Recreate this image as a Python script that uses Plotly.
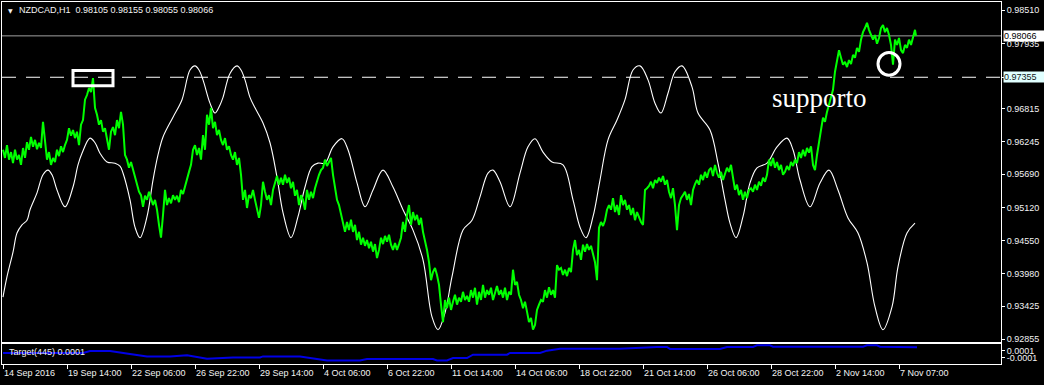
import plotly.graph_objects as go

# ---------------- data ----------------
x_tick_bars = [0, 64, 128, 192, 256, 320, 384, 448, 512, 576, 640, 704, 768, 832, 896]
x_tick_labels = ["14 Sep 2016", "19 Sep 14:00", "22 Sep 06:00", "26 Sep 22:00", "29 Sep 14:00",
                 "4 Oct 06:00", "6 Oct 22:00", "11 Oct 14:00", "14 Oct 06:00", "18 Oct 22:00",
                 "21 Oct 14:00", "26 Oct 06:00", "28 Oct 22:00", "2 Nov 14:00", "7 Nov 07:00"]
price_ticks = [0.98510, 0.97935, 0.97355, 0.96815, 0.96245, 0.95690, 0.95120,
               0.94550, 0.93980, 0.93425, 0.92855]

# NZDCAD H1 close, sampled every 2 bars, plus last bar
close_prices = [
    0.9611, 0.9597, 0.9619, 0.9594, 0.9607, 0.9588, 0.9611, 0.9594, 0.9602, 0.9585,  # 0
    0.9614, 0.9597, 0.9624, 0.9611, 0.9633, 0.9616, 0.9628, 0.9612, 0.9623, 0.9614,  # 20
    0.9659, 0.9628, 0.9594, 0.9607, 0.9585, 0.9597, 0.9590, 0.9611, 0.9600, 0.9617,  # 40
    0.9607, 0.9619, 0.9628, 0.9648, 0.9635, 0.9645, 0.9631, 0.9642, 0.9619, 0.9654,  # 60
    0.9662, 0.9697, 0.9705, 0.9717, 0.9710, 0.9734, 0.9683, 0.9671, 0.9654, 0.9662,  # 80
    0.9642, 0.9648, 0.9631, 0.9611, 0.9642, 0.9650, 0.9636, 0.9662, 0.9648, 0.9676,  # 100
    0.9654, 0.9602, 0.9594, 0.9580, 0.9590, 0.9576, 0.9563, 0.9551, 0.9539, 0.9533,  # 120
    0.9513, 0.9532, 0.9525, 0.9539, 0.9528, 0.9516, 0.9525, 0.9508, 0.9482, 0.9460,  # 140
    0.9499, 0.9542, 0.9516, 0.9528, 0.9519, 0.9533, 0.9525, 0.9532, 0.9521, 0.9542,  # 160
    0.9535, 0.9549, 0.9559, 0.9573, 0.9585, 0.9611, 0.9619, 0.9602, 0.9614, 0.9594,  # 180
    0.9636, 0.9611, 0.9671, 0.9654, 0.9683, 0.9648, 0.9659, 0.9636, 0.9645, 0.9628,  # 200
    0.9619, 0.9631, 0.9611, 0.9617, 0.9602, 0.9594, 0.9607, 0.9585, 0.9597, 0.9568,  # 220
    0.9525, 0.9542, 0.9511, 0.9533, 0.9528, 0.9542, 0.9525, 0.9508, 0.9494, 0.9516,  # 240
    0.9556, 0.9539, 0.9525, 0.9533, 0.9516, 0.9542, 0.9556, 0.9566, 0.9551, 0.9563,  # 260
    0.9551, 0.9568, 0.9554, 0.9563, 0.9545, 0.9556, 0.9532, 0.9542, 0.9516, 0.9533,  # 280
    0.9525, 0.9508, 0.9542, 0.9525, 0.9539, 0.9528, 0.9545, 0.9559, 0.9568, 0.9576,  # 300
    0.9580, 0.9594, 0.9583, 0.9590, 0.9597, 0.9568, 0.9542, 0.9525, 0.9516, 0.9499,  # 320
    0.9482, 0.9470, 0.9487, 0.9473, 0.9491, 0.9470, 0.9482, 0.9456, 0.9470, 0.9448,  # 340
    0.9460, 0.9446, 0.9456, 0.9442, 0.9453, 0.9436, 0.9449, 0.9425, 0.9439, 0.9460,  # 360
    0.9449, 0.9463, 0.9453, 0.9465, 0.9448, 0.9439, 0.9451, 0.9439, 0.9449, 0.9460,  # 380
    0.9487, 0.9470, 0.9499, 0.9516, 0.9482, 0.9504, 0.9490, 0.9499, 0.9482, 0.9494,  # 400
    0.9470, 0.9456, 0.9439, 0.9418, 0.9387, 0.9401, 0.9408, 0.9396, 0.9379, 0.9345,  # 420
    0.9315, 0.9353, 0.9339, 0.9357, 0.9336, 0.9350, 0.9362, 0.9345, 0.9357, 0.9350,  # 440
    0.9367, 0.9353, 0.9360, 0.9350, 0.9370, 0.9357, 0.9374, 0.9345, 0.9367, 0.9353,  # 460
    0.9379, 0.9357, 0.9370, 0.9362, 0.9374, 0.9353, 0.9367, 0.9377, 0.9362, 0.9370,  # 480
    0.9357, 0.9374, 0.9353, 0.9367, 0.9362, 0.9405, 0.9379, 0.9384, 0.9362, 0.9353,  # 500
    0.9339, 0.9350, 0.9333, 0.9315, 0.9322, 0.9302, 0.9310, 0.9336, 0.9345, 0.9353,  # 520
    0.9350, 0.9370, 0.9357, 0.9375, 0.9362, 0.9370, 0.9357, 0.9413, 0.9405, 0.9408,  # 540
    0.9396, 0.9405, 0.9394, 0.9408, 0.9401, 0.9439, 0.9456, 0.9430, 0.9439, 0.9422,  # 560
    0.9448, 0.9436, 0.9449, 0.9439, 0.9446, 0.9430, 0.9418, 0.9387, 0.9477, 0.9487,  # 580
    0.9480, 0.9490, 0.9508, 0.9516, 0.9508, 0.9528, 0.9504, 0.9516, 0.9499, 0.9533,  # 600
    0.9516, 0.9525, 0.9508, 0.9516, 0.9499, 0.9511, 0.9490, 0.9504, 0.9494, 0.9487,  # 620
    0.9482, 0.9542, 0.9545, 0.9549, 0.9556, 0.9545, 0.9559, 0.9554, 0.9563, 0.9556,  # 640
    0.9566, 0.9551, 0.9559, 0.9539, 0.9528, 0.9545, 0.9516, 0.9473, 0.9516, 0.9528,  # 660
    0.9533, 0.9539, 0.9525, 0.9535, 0.9516, 0.9542, 0.9552, 0.9559, 0.9551, 0.9568,  # 680
    0.9559, 0.9573, 0.9563, 0.9576, 0.9580, 0.9566, 0.9585, 0.9571, 0.9563, 0.9573,  # 700
    0.9559, 0.9568, 0.9580, 0.9573, 0.9585, 0.9563, 0.9542, 0.9551, 0.9533, 0.9542,  # 720
    0.9525, 0.9539, 0.9528, 0.9542, 0.9545, 0.9539, 0.9551, 0.9542, 0.9556, 0.9549,  # 740
    0.9563, 0.9556, 0.9568, 0.9594, 0.9583, 0.9597, 0.9580, 0.9590, 0.9576, 0.9585,  # 760
    0.9568, 0.9573, 0.9583, 0.9576, 0.9590, 0.9583, 0.9594, 0.9588, 0.9607, 0.9597,  # 780
    0.9611, 0.9600, 0.9614, 0.9606, 0.9617, 0.9585, 0.9576, 0.9602, 0.9628, 0.9645,  # 800
    0.9666, 0.9659, 0.9676, 0.9688, 0.9700, 0.9714, 0.9745, 0.9765, 0.9782, 0.9769,  # 820
    0.9757, 0.9762, 0.9753, 0.9765, 0.9758, 0.9774, 0.9769, 0.9786, 0.9779, 0.9800,  # 840
    0.9813, 0.9820, 0.9829, 0.9817, 0.9808, 0.9800, 0.9808, 0.9793, 0.9803, 0.9820,  # 860
    0.9825, 0.9813, 0.9820, 0.9808, 0.9791, 0.9757, 0.9800, 0.9791, 0.9803, 0.9782,  # 880
    0.9777, 0.9791, 0.9786, 0.9800, 0.9791, 0.9803, 0.9817,                          # 900
    0.98066,                                                                         # 913
]
last_bar = 913
close_bars = [2 * i for i in range(len(close_prices) - 1)] + [last_bar]
last_close = 0.98066

# white projection curve
curve_bars = [0, 4, 10, 14, 19, 24, 27, 34, 40, 45, 49, 54, 62, 70, 75, 79, 87, 92, 97, 104,
              112, 117, 120, 127, 132, 137, 144, 150, 155, 160, 170, 179, 187, 192, 196, 200,
              207, 212, 217, 220, 227, 234, 238, 242, 247, 252, 260, 267, 274, 280, 288, 295,
              302, 309, 315, 322, 330, 339, 345, 354, 362, 370, 380, 390, 400, 410, 420, 429,
              435, 442, 449, 460, 469, 477, 485, 490, 497, 507, 517, 525, 532, 540, 549, 560,
              570, 577, 583, 590, 597, 605, 614, 622, 630, 637, 645, 652, 658, 665, 672, 679,
              689, 695, 707, 715, 722, 727, 733, 740, 747, 754, 764, 774, 784, 790, 797, 807,
              817, 826, 835, 845, 855, 864, 872, 880, 889, 895, 904, 912]
curve_prices = [0.9358, 0.9393, 0.9435, 0.9468, 0.9482, 0.9490, 0.9508, 0.9537, 0.9568, 0.9576,
                0.9568, 0.9542, 0.9513, 0.9547, 0.9585, 0.9605, 0.9631, 0.9623, 0.9605, 0.9590,
                0.9588, 0.9583, 0.9571, 0.9525, 0.9478, 0.9460, 0.9496, 0.9559, 0.9602, 0.9633,
                0.9667, 0.9697, 0.9748, 0.9755, 0.9748, 0.9731, 0.9691, 0.9674, 0.9688, 0.9701,
                0.9742, 0.9755, 0.9748, 0.9731, 0.9701, 0.9683, 0.9657, 0.9623, 0.9564, 0.9503,
                0.9460, 0.9496, 0.9547, 0.9582, 0.9588, 0.9588, 0.9616, 0.9630, 0.9611, 0.9554,
                0.9513, 0.9542, 0.9576, 0.9547, 0.9508, 0.9473, 0.9422, 0.9324, 0.9302, 0.9331,
                0.9393, 0.9473, 0.9490, 0.9530, 0.9571, 0.9576, 0.9556, 0.9513, 0.9571, 0.9616,
                0.9630, 0.9607, 0.9590, 0.9585, 0.9525, 0.9478, 0.9460, 0.9496, 0.9559, 0.9628,
                0.9662, 0.9697, 0.9748, 0.9755, 0.9731, 0.9691, 0.9674, 0.9708, 0.9745, 0.9755,
                0.9719, 0.9674, 0.9645, 0.9588, 0.9525, 0.9485, 0.9460, 0.9496, 0.9554, 0.9580,
                0.9588, 0.9616, 0.9631, 0.9611, 0.9559, 0.9513, 0.9554, 0.9576, 0.9542, 0.9494,
                0.9468, 0.9417, 0.9341, 0.9302, 0.9341, 0.9410, 0.9468, 0.9485]

# Target(445) indicator (lower window)
target_bars = [0, 80, 87, 107, 127, 144, 167, 184, 204, 230, 257, 260, 297, 310, 324, 357, 364,
               430, 434, 444, 450, 464, 470, 504, 507, 537, 544, 557, 617, 654, 664, 667, 717,
               724, 750, 754, 767, 770, 860, 864, 874, 877, 894, 897, 914]
target_values = [0.000034, 0.000034, 0.000091, 0.000091, 0.000006, -0.000063, -0.000063,
                 -0.000034, -0.000129, -0.000092, -0.000092, -0.000063, -0.000063, -0.000109,
                 -0.000177, -0.000177, -0.000137, -0.000137, -0.000177, -0.000177, -0.000109,
                 -0.000109, -0.000014, -0.000014, 0.000034, 0.000034, 0.000100, 0.000157,
                 0.000157, 0.000206, 0.000206, 0.000149, 0.000149, 0.000206, 0.000206, 0.000252,
                 0.000252, 0.000214, 0.000214, 0.000252, 0.000252, 0.000214, 0.000214, 0.000194,
                 0.000194]
target_ticks = [0.0001, -0.0001]

support_level = 0.97355
box_bars = [70, 110]
box_prices = [0.9721, 0.9747]
circle_bars = [875, 897]
circle_prices = [0.9739, 0.9778]
label_bar = 816
label_price = 0.9700

header_text = "NZDCAD,H1\u00a0\u00a00.98105 0.98155 0.98055 0.98066"
target_text = "Target(445) 0.0001"

# ---------------- figure ----------------
W, H = 1044, 385
ML, MR, MT, MB = 2, 43, 2, 21
PH = H - MT - MB          # 362
PW = W - ML - MR          # 999
main_bottom = (H - MB - 342) / PH
sub_top = (H - MB - 344) / PH

TXT = "#f2f2f2"
FONT = "Liberation Sans"

fig = go.Figure()
fig.add_trace(go.Scatter(x=curve_bars, y=curve_prices, mode="lines",
                         line=dict(color="white", width=1.1, shape="spline", smoothing=1.0),
                         xaxis="x", yaxis="y", hoverinfo="skip"))
fig.add_trace(go.Scatter(x=close_bars, y=close_prices, mode="lines",
                         line=dict(color="#00ff00", width=2),
                         xaxis="x", yaxis="y", hoverinfo="skip"))
fig.add_trace(go.Scatter(x=target_bars, y=target_values, mode="lines",
                         line=dict(color="#0000e6", width=2),
                         xaxis="x2", yaxis="y2", hoverinfo="skip"))

# tick labels hidden under the price boxes are left blank
price_tick_text = ["" if abs(v - support_level) < 1e-9 else f"{v:.5f}" for v in price_ticks]

xr = [-1, PW - 1]
axis_common = dict(showgrid=False, zeroline=False, showline=True, mirror=True,
                   linecolor="white", linewidth=1)
fig.update_layout(
    width=W, height=H,
    margin=dict(l=ML, r=MR, t=MT, b=MB, pad=0),
    paper_bgcolor="black", plot_bgcolor="black",
    showlegend=False,
    font=dict(family=FONT, size=9, color=TXT),
    xaxis=dict(range=xr, domain=[0, 1], anchor="y", showticklabels=False, ticks="", **axis_common),
    yaxis=dict(range=[0.928085, 0.986474], domain=[main_bottom, 1], side="right",
               tickvals=price_ticks, ticktext=price_tick_text,
               ticks="outside", ticklen=3, tickcolor="white",
               tickfont=dict(family=FONT, size=9, color=TXT), **axis_common),
    xaxis2=dict(range=xr, domain=[0, 1], anchor="y2", matches="x", showticklabels=False,
                tickvals=x_tick_bars, ticks="outside", ticklen=4, tickcolor="white", **axis_common),
    yaxis2=dict(range=[-0.00028, 0.00029], domain=[0, sub_top], side="right",
                tickvals=target_ticks, ticktext=["0.0001", "-0.0001"],
                ticks="outside", ticklen=3, tickcolor="white",
                tickfont=dict(family=FONT, size=9, color=TXT), **axis_common),
)

shapes = [
    dict(type="line", xref="paper", x0=0, x1=1, yref="y", y0=last_close, y1=last_close,
         line=dict(color="#a0a0a0", width=1), layer="below"),
    dict(type="line", xref="paper", x0=0, x1=1, yref="y", y0=support_level, y1=support_level,
         line=dict(color="white", width=1, dash="14px,10px"), layer="below"),
    dict(type="rect", xref="x", yref="y", x0=box_bars[0], x1=box_bars[1],
         y0=box_prices[0], y1=box_prices[1], line=dict(color="white", width=3)),
    dict(type="circle", xref="x", yref="y", x0=circle_bars[0], x1=circle_bars[1],
         y0=circle_prices[0], y1=circle_prices[1], line=dict(color="white", width=3)),
]
fig.update_layout(shapes=shapes)

ann = []
for b, t in zip(x_tick_bars, x_tick_labels):
    ann.append(dict(x=b, xref="x2", y=(H - MB - 373) / PH, yref="paper", text=t,
                    xanchor="left", yanchor="middle", showarrow=False, xshift=-1,
                    font=dict(family=FONT, size=9, color=TXT)))
ann.append(dict(x=(17 - ML) / PW, xref="paper", y=(H - MB - 10) / PH, yref="paper",
                text=header_text, xanchor="left", yanchor="middle", showarrow=False,
                font=dict(family=FONT, size=9, color=TXT)))
ann.append(dict(x=(6 - ML) / PW, xref="paper", y=(H - MB - 10) / PH, yref="paper",
                text="\u25bc", xanchor="left", yanchor="middle", showarrow=False,
                font=dict(family="DejaVu Sans", size=6, color=TXT)))
ann.append(dict(x=(7 - ML) / PW, xref="paper", y=(H - MB - 352) / PH, yref="paper",
                text=target_text, xanchor="left", yanchor="middle", showarrow=False,
                font=dict(family=FONT, size=9, color=TXT)))
ann.append(dict(x=label_bar, xref="x", y=label_price, yref="y", text="supporto",
                xanchor="center", yanchor="middle", showarrow=False,
                font=dict(family="Liberation Serif", size=27, color="white")))
ann.append(dict(x=(1003 - ML) / PW, xref="paper", y=last_close, yref="y",
                text=f"{last_close:.5f}", xanchor="left", yanchor="middle", showarrow=False,
                bgcolor="white", width=44, align="left", borderpad=0,
                font=dict(family=FONT, size=9, color="black")))
ann.append(dict(x=(1003 - ML) / PW, xref="paper", y=support_level, yref="y",
                text=f"{support_level:.5f}", xanchor="left", yanchor="middle", showarrow=False,
                bgcolor="#e0ffff", width=44, align="left", borderpad=0,
                font=dict(family=FONT, size=9, color="#102020")))
fig.update_layout(annotations=ann)

fig.write_html("out.html")
